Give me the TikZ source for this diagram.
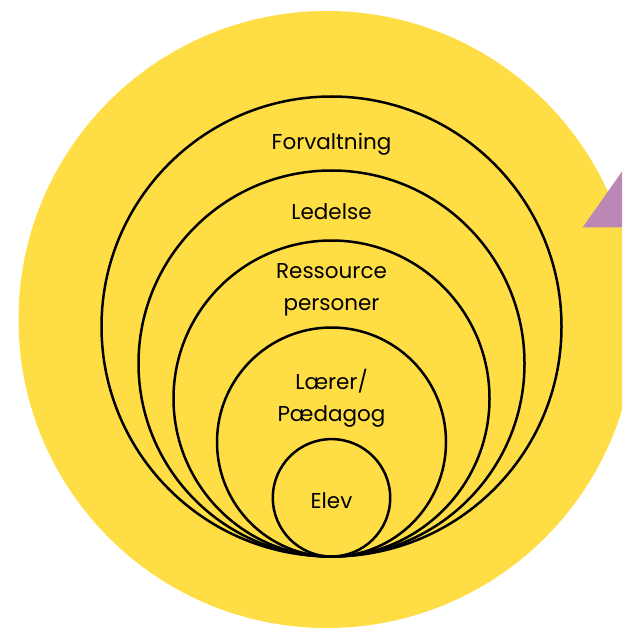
\documentclass[tikz,border=0pt]{standalone}
\usepackage{fontspec}
\setmainfont{Poppins}
\usepackage{tikz}
\definecolor{sunyellow}{RGB}{254,221,69}
\definecolor{lilac}{RGB}{187,135,180}
\tikzset{ring/.style={draw=black, line width=2.5pt},
  ringtext/.style={font=\fontsize{21.5}{32}\selectfont, align=center, inner sep=0pt}}

\begin{document}
\begin{tikzpicture}[x=1pt,y=-1pt]
          \useasboundingbox (0,0) rectangle (622,628);
          \clip (0,0) rectangle (622,628);

            % big yellow disc behind everything
            \fill[sunyellow] (327,319.5) circle (308.5pt);

            % lilac triangle sticking in at the right edge
            \fill[lilac] (582.7,227.3) -- (640,146) -- (640,227.3) -- cycle;

          % all rings touch in one point at the bottom
          \coordinate (touch) at (331.5,556.5);
          \foreach \r in {230,193,158,114.5,58.7}
              \draw[ring] (touch) ++(0,-\r) circle (\r pt);

          % Add labels
          \node[ringtext, anchor=base] (forvaltning) at (331.5,150) {Forvaltning};
          \node[ringtext, anchor=base] (ledelse) at (331.5,219) {Ledelse};
          \node[ringtext] (ressource) at (331.5,290) {Ressource\\personer};
          \node[ringtext] (laerer) at (331.5,398) {Lærer/\\Pædagog};
          \node[ringtext, anchor=base] (elev) at (331.5,508) {Elev};

          \end{tikzpicture}
\end{document}
